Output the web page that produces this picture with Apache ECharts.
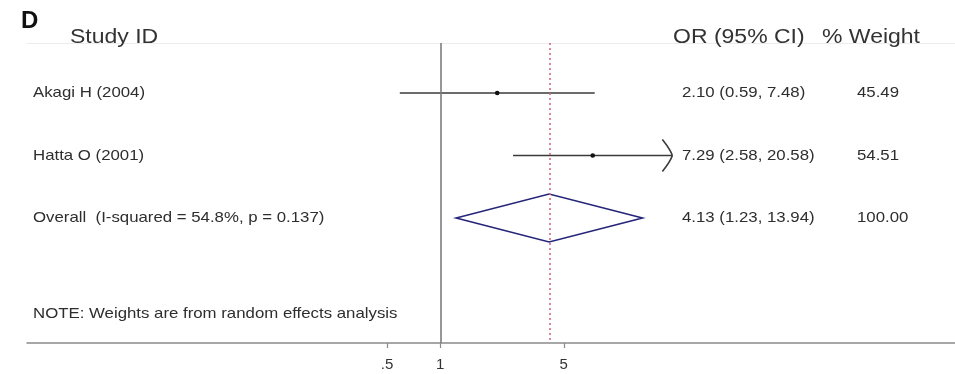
<!DOCTYPE html>
<html>
<head>
<meta charset="utf-8">
<title>Forest plot</title>
<script src="https://cdn.jsdelivr.net/npm/echarts@6/dist/echarts.min.js"></script>
<style>
  html, body { margin: 0; padding: 0; background: #fff; }
  #chart { width: 955px; height: 374px; }
</style>
</head>
<body>
<div id="chart"></div>
<script>
// Panel and column headings
const panelLabel = 'D';
const columnHeaders = ['Study ID', 'OR (95% CI)', '% Weight'];

// Individual studies: odds ratio with 95% CI and random-effects weight
const studies = ['Akagi H (2004)', 'Hatta O (2001)'];
const oddsRatios = [2.10, 7.29];
const ciLower = [0.59, 2.58];
const ciUpper = [7.48, 20.58];
const weights = [45.49, 54.51];

// Pooled estimate
const overallLabel = 'Overall  (I-squared = 54.8%, p = 0.137)';
const overallEstimate = [4.13];
const overallCI = [1.23, 13.94];
const overallWeight = [100.00];

const noteText = 'NOTE: Weights are from random effects analysis';

// Odds-ratio axis ticks (log scale)
const tickValues = [0.5, 1, 5];
const tickLabels = ['.5', '1', '5'];

// CIs reaching past this value end in an arrow
const ciDisplayMax = 20;

const FONT = '"Liberation Sans", Arial, sans-serif';
const TEXT_COLOR = '#2e2e2e';
const SMALL = 15, SMALL_STRETCH = 1.12;
const HEAD = 20, HEAD_STRETCH = 1.15;
const COL_STUDY = 33, COL_OR = 682, COL_WEIGHT = 857;

const lg = v => Math.log10(v);
const fmt = v => v.toFixed(2);
const ciText = (or, lo, hi) => `${fmt(or)} (${fmt(lo)}, ${fmt(hi)})`;

function rowText(text, x, y) {
  return {
    type: 'text', x: x, y: y, scaleX: SMALL_STRETCH, originX: 0, originY: 0,
    style: { text: text, x: 0, y: 0, fill: TEXT_COLOR, font: `${SMALL}px ${FONT}`,
             verticalAlign: 'middle' }
  };
}

const studyData = studies.map((s, i) => [i + 1, lg(oddsRatios[i]), lg(ciLower[i]), lg(ciUpper[i]), i]);
const overallRow = studies.length + 1;
const overallData = [[overallRow, lg(overallEstimate[0]), lg(overallCI[0]), lg(overallCI[1])]];

const chart = echarts.init(document.getElementById('chart'), null, { renderer: 'canvas' });

// Column headings sit on top of the faint header rule
const headerTexts = [
  { text: columnHeaders[0], x: 70 },
  { text: columnHeaders[1], x: 673 },
  { text: columnHeaders[2], x: 822 }
].map(h => ({
  type: 'text', x: h.x, y: 27, z: 100, scaleX: HEAD_STRETCH, originX: 0, originY: 0,
  style: { text: h.text, x: 0, y: 0, fill: '#333', font: `${HEAD}px ${FONT}`,
           verticalAlign: 'top' }
}));

chart.setOption({
  animation: false,
  backgroundColor: '#ffffff',
  grid: { left: 27, right: 0, top: 43, bottom: 31 },
  xAxis: [
    {
      type: 'value',
      position: 'bottom',
      min: -2.339,
      max: 2.913,
      splitLine: { show: false },
      axisLine: { show: true, lineStyle: { color: '#8a8a8a', width: 1.5 } },
      axisTick: {
        show: true, length: 5,
        customValues: tickValues.map(lg),
        lineStyle: { color: '#8a8a8a', width: 1.2 }
      },
      axisLabel: {
        show: true, margin: 14,
        customValues: tickValues.map(lg),
        formatter: v => {
          let best = 0;
          tickValues.forEach((t, i) => { if (Math.abs(lg(t) - v) < Math.abs(lg(tickValues[best]) - v)) best = i; });
          return tickLabels[best];
        },
        color: '#333', fontSize: 15, fontFamily: FONT
      }
    },
    {
      type: 'value',
      position: 'top',
      min: -2.339,
      max: 2.913,
      splitLine: { show: false },
      axisLine: { show: true, lineStyle: { color: '#ececec', width: 1 } },
      axisTick: { show: false },
      axisLabel: { show: false }
    }
  ],
  yAxis: {
    type: 'value',
    inverse: true,
    min: 0.2,
    max: 5,
    show: false
  },
  graphic: [
    {
      type: 'text', left: 21, top: 9, z: 100,
      style: { text: panelLabel, fill: '#111', font: `bold 24px ${FONT}` }
    },
    ...headerTexts,
    {
      type: 'text', x: COL_STUDY, y: 314, scaleX: SMALL_STRETCH, originX: 0, originY: 0,
      style: { text: noteText, x: 0, y: 0, fill: TEXT_COLOR, font: `${SMALL}px ${FONT}`,
               verticalAlign: 'middle' }
    }
  ],
  series: [
    {
      name: 'studies',
      type: 'custom',
      coordinateSystem: 'cartesian2d',
      clip: false,
      encode: { x: [1, 2, 3], y: 0 },
      data: studyData,
      renderItem: (params, api) => {
        const row = api.value(0);
        const i = api.value(4);
        const pt = api.coord([api.value(1), row]);
        const lo = api.coord([api.value(2), row]);
        const hi = api.coord([api.value(3), row]);
        const children = [
          {
            type: 'line',
            shape: { x1: lo[0], y1: lo[1], x2: hi[0], y2: hi[1] },
            style: { stroke: '#3a3a3a', lineWidth: 1.6 }
          },
          {
            type: 'circle',
            shape: { cx: pt[0], cy: pt[1], r: 2.3 },
            style: { fill: '#111' }
          },
          rowText(studies[i], COL_STUDY, pt[1]),
          rowText(ciText(oddsRatios[i], ciLower[i], ciUpper[i]), COL_OR, pt[1]),
          rowText(fmt(weights[i]), COL_WEIGHT, pt[1])
        ];
        if (ciUpper[i] > ciDisplayMax) {
          children.push({
            type: 'bezierCurve',
            shape: { x1: hi[0] - 10, y1: hi[1] - 16, cpx1: hi[0] - 2, cpy1: hi[1] - 6, x2: hi[0], y2: hi[1] },
            style: { stroke: '#3a3a3a', lineWidth: 1.6, fill: null }
          }, {
            type: 'bezierCurve',
            shape: { x1: hi[0] - 10, y1: hi[1] + 16, cpx1: hi[0] - 2, cpy1: hi[1] + 6, x2: hi[0], y2: hi[1] },
            style: { stroke: '#3a3a3a', lineWidth: 1.6, fill: null }
          });
        }
        return { type: 'group', children: children };
      },
      markLine: {
        silent: true,
        symbol: ['none', 'none'],
        label: { show: false },
        lineStyle: { color: '#7d7d7d', width: 1.6, type: 'solid' },
        data: [{ xAxis: lg(1) }]
      }
    },
    {
      name: 'overall',
      type: 'custom',
      coordinateSystem: 'cartesian2d',
      clip: false,
      encode: { x: [1, 2, 3], y: 0 },
      data: overallData,
      renderItem: (params, api) => {
        const row = api.value(0);
        const c = api.coord([api.value(1), row]);
        const lo = api.coord([api.value(2), row]);
        const hi = api.coord([api.value(3), row]);
        const h = 24;
        return {
          type: 'group',
          children: [
            {
              type: 'polygon',
              shape: { points: [[lo[0], lo[1]], [c[0], c[1] - h], [hi[0], hi[1]], [c[0], c[1] + h]] },
              style: { stroke: '#25257a', lineWidth: 1.6, fill: 'rgba(0,0,0,0)' }
            },
            rowText(overallLabel, COL_STUDY, c[1]),
            rowText(ciText(overallEstimate[0], overallCI[0], overallCI[1]), COL_OR, c[1]),
            rowText(fmt(overallWeight[0]), COL_WEIGHT, c[1])
          ]
        };
      },
      markLine: {
        silent: true,
        symbol: ['none', 'none'],
        label: { show: false },
        lineStyle: { color: '#d9687e', width: 1.6, type: [2, 3] },
        data: [{ xAxis: lg(overallEstimate[0]) }]
      }
    }
  ]
});
</script>
</body>
</html>
